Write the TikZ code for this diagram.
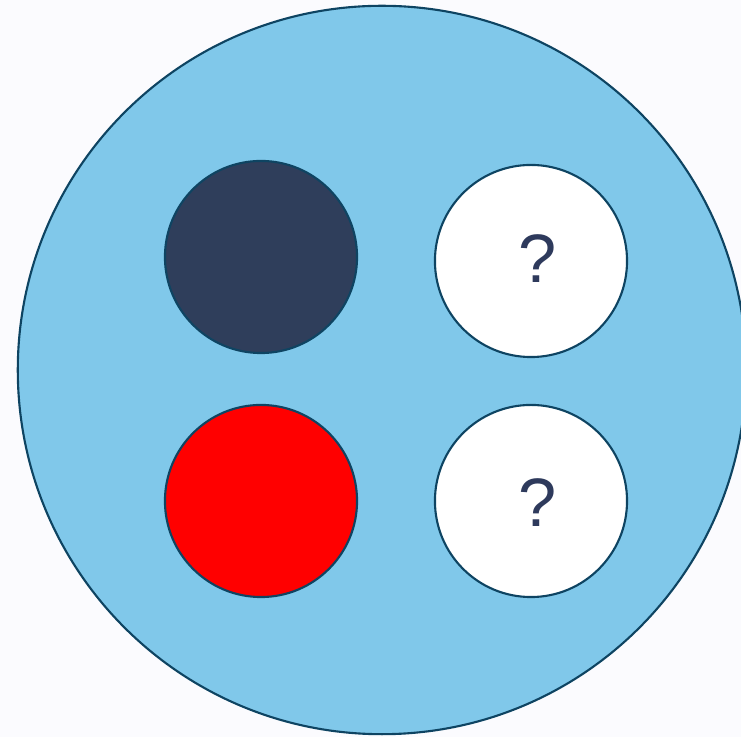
\documentclass[tikz,border=0pt]{standalone}
\usepackage{fontspec}
\setmainfont{Liberation Sans}
\definecolor{bgpaper}{HTML}{FBFBFE}
\definecolor{skyfill}{HTML}{80C8EA}
\definecolor{rimline}{HTML}{0E4462}
\definecolor{navyball}{HTML}{2F3E5B}
\definecolor{qtext}{HTML}{2E3A5C}
\begin{document}
\begin{tikzpicture}[x=0.01cm, y=-0.01cm,
    ball/.style={circle, draw=rimline, line width=0.6pt, minimum size=1.92cm, inner sep=0pt},
    qmark/.style={text=qtext, font=\fontsize{19.5}{20}\selectfont, inner sep=0pt}]
  % Background
  \useasboundingbox (0,0) rectangle (741,737);
  \fill[bgpaper] (0,0) rectangle (741,737);
  \clip (0,0) rectangle (741,737);
  % Outer disc
  \node[circle, draw=rimline, line width=0.6pt, fill=skyfill, minimum size=7.28cm, inner sep=0pt] (disc) at (382,370){};
  % Balls
  \node[ball, fill=navyball] (dark) at (261,257){};
  \node[ball, fill=white]    (q1)   at (531,261){};
  \node[ball, fill=red]      (hot)  at (261,501){};
  \node[ball, fill=white]    (q2)   at (531,501){};
  % Question marks
  \node[qmark] (q1txt) at ([xshift=0.07cm,yshift=0.02cm]q1.center){?};
  \node[qmark] (q2txt) at ([xshift=0.07cm,yshift=-0.02cm]q2.center){?};
\end{tikzpicture}
\end{document}
